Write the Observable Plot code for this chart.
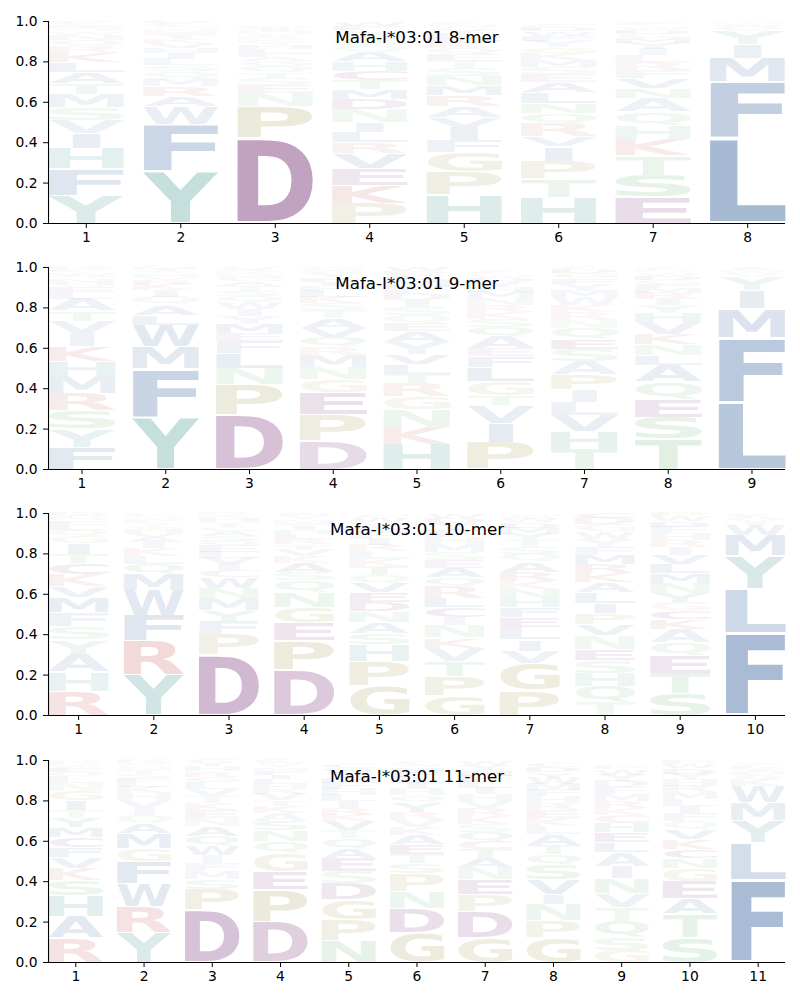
<!DOCTYPE html>
<html>
<head>
<meta charset="utf-8">
<script src="https://cdn.jsdelivr.net/npm/d3@7"></script>
<script src="https://cdn.jsdelivr.net/npm/@observablehq/plot@0.6"></script>
<style>
  body { margin: 0; background: #fff; }
  #c svg { display: block; }
</style>
</head>
<body>
<div id="c"></div>
<script>
// ---------- data (stack order bottom -> top, values = probability) ----------
const titles = ["Mafa-I*03:01 8-mer", "Mafa-I*03:01 9-mer", "Mafa-I*03:01 10-mer", "Mafa-I*03:01 11-mer"];
const yTicks = [0, 0.2, 0.4, 0.6, 0.8, 1.0];

const mer8 = [
  [["Y",.14],["F",.13],["H",.10],["I",.075],["V",.065],["S",.065],["M",.065],["T",.055],["A",.055],["L",.05],["K",.045],["R",.035],["Q",.03],["N",.025],["W",.015],["G",.015],["E",.015],["C",.01],["P",.005],["D",.005]],
  [["Y",.26],["F",.23],["W",.09],["A",.05],["R",.05],["M",.04],["Q",.035],["S",.03],["L",.03],["I",.03],["H",.025],["V",.025],["K",.02],["T",.02],["E",.015],["N",.015],["G",.01],["C",.01],["P",.01],["D",.005]],
  [["D",.42],["P",.16],["N",.065],["E",.04],["S",.035],["T",.03],["Q",.03],["G",.025],["A",.02],["F",.02],["L",.02],["H",.02],["Y",.015],["K",.015],["R",.015],["V",.015],["M",.01],["I",.01],["W",.01],["C",.005]],
  [["P",.10],["K",.09],["E",.083],["V",.074],["R",.053],["L",.054],["I",.045],["N",.066],["D",.05],["M",.05],["T",.045],["C",.045],["H",.05],["A",.045],["Q",.035],["S",.025],["G",.025],["Y",.02],["F",.02],["W",.02]],
  [["H",.14],["P",.115],["G",.095],["F",.06],["I",.065],["V",.05],["A",.055],["R",.055],["M",.05],["N",.045],["S",.04],["T",.035],["E",.035],["Q",.03],["K",.025],["D",.025],["L",.025],["Y",.02],["W",.015],["C",.01]],
  [["H",.13],["T",.09],["P",.09],["I",.07],["V",.05],["R",.065],["Q",.05],["N",.05],["L",.055],["A",.05],["E",.04],["S",.035],["M",.035],["K",.035],["G",.03],["Y",.03],["F",.025],["W",.02],["D",.02],["C",.015]],
  [["E",.13],["S",.11],["T",.095],["K",.08],["H",.07],["Q",.07],["A",.065],["N",.05],["V",.05],["F",.04],["R",.04],["L",.035],["I",.03],["Y",.03],["M",.025],["G",.02],["D",.02],["W",.015],["C",.01],["P",.01]],
  [["L",.42],["F",.28],["M",.12],["I",.065],["Y",.07],["V",.012],["W",.01],["A",.006],["C",.005],["T",.004],["H",.003]]
];

const mer9 = [
  [["F",.11],["Y",.09],["S",.09],["R",.085],["M",.085],["H",.075],["K",.075],["I",.065],["V",.06],["T",.05],["A",.06],["L",.035],["E",.025],["Q",.02],["N",.02],["G",.015],["W",.015],["C",.01],["D",.01],["P",.01]],
  [["Y",.26],["F",.24],["M",.11],["W",.105],["L",.05],["A",.05],["Q",.04],["I",.035],["K",.03],["R",.02],["V",.015],["H",.015],["S",.01],["T",.01],["E",.005],["N",.005],["G",.005],["C",.005]],
  [["D",.27],["P",.15],["N",.08],["L",.075],["F",.06],["E",.04],["M",.045],["Y",.04],["I",.035],["W",.035],["Q",.03],["S",.025],["T",.025],["A",.02],["G",.02],["H",.015],["K",.01],["R",.01],["V",.01],["C",.005]],
  [["D",.14],["P",.13],["E",.11],["G",.065],["N",.06],["M",.06],["R",.04],["Q",.05],["V",.045],["A",.05],["T",.04],["S",.035],["K",.03],["L",.03],["H",.025],["I",.02],["F",.02],["Y",.02],["W",.015],["C",.015]],
  [["H",.125],["K",.085],["N",.085],["G",.065],["R",.065],["T",.045],["L",.05],["V",.05],["Y",.06],["A",.055],["E",.04],["Q",.04],["S",.04],["I",.035],["D",.035],["F",.03],["M",.03],["C",.025],["P",.02],["W",.02]],
  [["P",.135],["I",.095],["V",.09],["T",.045],["G",.07],["L",.07],["F",.055],["E",.04],["A",.06],["Q",.045],["S",.04],["K",.035],["R",.035],["N",.035],["M",.03],["H",.025],["Y",.025],["D",.02],["W",.015],["C",.01]],
  [["T",.10],["H",.09],["V",.08],["L",.065],["I",.06],["P",.075],["A",.065],["S",.06],["E",.05],["Q",.055],["N",.04],["R",.04],["K",.035],["W",.04],["M",.03],["Y",.035],["F",.025],["G",.025],["D",.02],["C",.01]],
  [["T",.15],["S",.11],["E",.09],["Q",.085],["A",.08],["L",.05],["N",.055],["K",.05],["V",.06],["H",.045],["Y",.04],["I",.03],["R",.03],["M",.025],["F",.02],["G",.02],["D",.02],["W",.015],["P",.01],["C",.01]],
  [["L",.33],["F",.32],["M",.145],["I",.09],["Y",.07],["V",.015],["W",.01],["A",.01],["C",.005],["T",.005]]
];

const mer10 = [
  [["R",.12],["H",.095],["A",.09],["Y",.07],["S",.065],["F",.07],["M",.075],["V",.055],["K",.06],["C",.055],["T",.045],["I",.055],["G",.035],["Q",.03],["L",.025],["E",.02],["N",.015],["W",.01],["D",.01],["P",.005]],
  [["Y",.20],["R",.17],["F",.125],["W",.125],["M",.08],["Q",.05],["L",.04],["K",.04],["I",.03],["A",.025],["V",.02],["H",.02],["S",.015],["T",.015],["E",.01],["N",.01],["G",.01],["C",.005],["D",.005],["P",.005]],
  [["D",.30],["P",.10],["F",.065],["Y",.055],["M",.06],["N",.05],["W",.055],["C",.035],["I",.03],["V",.03],["L",.03],["E",.03],["Q",.025],["S",.025],["A",.025],["G",.02],["T",.02],["H",.02],["K",.015],["R",.01]],
  [["D",.225],["P",.145],["E",.09],["G",.075],["N",.075],["Q",.06],["S",.04],["A",.045],["K",.035],["V",.03],["T",.03],["R",.025],["L",.025],["H",.02],["I",.02],["F",.015],["M",.015],["Y",.015],["W",.01],["C",.005]],
  [["G",.145],["P",.125],["H",.08],["S",.055],["A",.055],["N",.055],["D",.045],["E",.05],["V",.045],["Q",.04],["T",.045],["K",.035],["L",.04],["R",.03],["I",.03],["F",.03],["M",.025],["Y",.025],["W",.02],["C",.015]],
  [["G",.10],["P",.095],["T",.075],["V",.065],["K",.05],["N",.06],["I",.04],["C",.05],["L",.045],["R",.06],["Q",.045],["A",.045],["E",.04],["S",.04],["M",.04],["H",.035],["F",.035],["Y",.03],["D",.025],["W",.02]],
  [["P",.125],["G",.135],["V",.06],["I",.055],["L",.06],["E",.05],["F",.05],["H",.045],["N",.045],["K",.04],["R",.045],["A",.05],["Q",.04],["S",.035],["T",.035],["Y",.03],["M",.03],["D",.025],["W",.02],["C",.015]],
  [["T",.065],["Q",.08],["H",.065],["S",.065],["E",.055],["N",.065],["V",.055],["P",.055],["I",.05],["L",.055],["A",.05],["K",.045],["R",.045],["M",.045],["F",.04],["Y",.04],["W",.035],["G",.035],["D",.03],["C",.025]],
  [["S",.11],["T",.10],["E",.085],["Q",.065],["A",.065],["K",.05],["C",.045],["G",.04],["Y",.045],["N",.05],["M",.05],["L",.045],["V",.045],["I",.04],["R",.035],["H",.035],["F",.03],["D",.025],["W",.025],["P",.02]],
  [["F",.41],["L",.215],["Y",.165],["M",.10],["W",.055],["I",.015],["V",.01],["A",.01],["C",.01],["K",.005]]
];

const mer11 = [
  [["R",.12],["A",.11],["H",.10],["S",.075],["K",.06],["V",.055],["F",.05],["C",.05],["M",.05],["Y",.045],["T",.04],["I",.05],["G",.045],["N",.04],["L",.03],["Q",.025],["E",.02],["W",.01],["D",.01],["P",.01]],
  [["Y",.15],["R",.125],["W",.115],["F",.11],["G",.065],["M",.075],["A",.05],["Q",.04],["I",.035],["V",.04],["H",.035],["K",.03],["L",.025],["E",.02],["S",.02],["T",.02],["N",.015],["C",.015],["D",.01],["P",.01]],
  [["D",.26],["P",.10],["S",.05],["M",.04],["F",.04],["I",.04],["W",.045],["Q",.05],["A",.05],["N",.04],["E",.04],["K",.035],["T",.035],["V",.035],["L",.03],["G",.03],["R",.025],["H",.025],["Y",.02],["C",.015]],
  [["D",.20],["P",.16],["E",.09],["G",.09],["Q",.06],["N",.055],["S",.045],["A",.04],["K",.035],["T",.03],["V",.03],["R",.025],["H",.025],["L",.025],["I",.02],["F",.02],["M",.015],["Y",.015],["W",.01],["C",.01]],
  [["N",.11],["P",.10],["G",.10],["D",.08],["S",.06],["E",.065],["A",.05],["Q",.05],["T",.04],["V",.045],["K",.03],["R",.035],["I",.035],["L",.03],["H",.03],["F",.03],["M",.025],["Y",.025],["W",.02],["C",.02]],
  [["G",.15],["D",.12],["N",.08],["P",.09],["S",.05],["T",.045],["E",.05],["A",.045],["K",.04],["V",.04],["R",.035],["Y",.05],["Q",.035],["H",.03],["I",.03],["L",.03],["F",.025],["M",.02],["W",.015],["C",.01]],
  [["G",.125],["D",.125],["P",.085],["E",.075],["N",.06],["A",.045],["T",.045],["C",.04],["Q",.045],["S",.04],["K",.04],["R",.04],["V",.035],["H",.035],["I",.03],["L",.03],["F",.03],["M",.025],["Y",.025],["W",.02]],
  [["G",.125],["P",.085],["N",.08],["I",.045],["V",.075],["S",.075],["Q",.05],["T",.045],["A",.055],["L",.04],["K",.04],["E",.04],["R",.035],["H",.035],["F",.03],["M",.03],["W",.03],["Y",.025],["D",.025],["C",.02]],
  [["G",.06],["S",.065],["Q",.08],["T",.07],["V",.065],["N",.075],["I",.06],["A",.07],["L",.05],["E",.05],["H",.045],["C",.04],["K",.035],["R",.035],["M",.035],["F",.035],["D",.03],["Y",.03],["W",.025],["P",.02]],
  [["S",.125],["T",.115],["A",.075],["E",.085],["G",.065],["N",.05],["C",.045],["K",.05],["V",.05],["Q",.04],["F",.04],["I",.035],["L",.035],["M",.035],["R",.03],["H",.03],["Y",.03],["D",.025],["W",.02],["P",.02]],
  [["F",.41],["L",.185],["Y",.11],["M",.09],["W",.08],["K",.03],["V",.01],["A",.01],["C",.01],["H",.01],["I",.01],["R",.01],["E",.01],["S",.01]]
];

// colour groups
const groupColors = {
  hydrophobic: "rgb(82,119,170)",
  aromaticPolar: "rgb(80,158,152)",
  acidic: "rgb(134,72,134)",
  special: "rgb(167,159,90)",
  basic: "rgb(200,95,95)",
  polar: "rgb(110,185,120)"
};
const letterGroups = {
  A:"hydrophobic", V:"hydrophobic", L:"hydrophobic", I:"hydrophobic", M:"hydrophobic", F:"hydrophobic", W:"hydrophobic",
  Y:"aromaticPolar", H:"aromaticPolar",
  D:"acidic", E:"acidic", C:"acidic",
  P:"special", G:"special",
  K:"basic", R:"basic",
  S:"polar", T:"polar", N:"polar", Q:"polar"
};

// ---------- rendering ----------
const FS = 100;
const FONT = '"DejaVu Sans"';
const VPAD = 0.05;
const WIDTH = 0.8;
const ctx = document.createElement("canvas").getContext("2d");
ctx.font = `bold ${FS}px ${FONT}`;
const metricCache = {};
function ink(ch) {
  if (!metricCache[ch]) {
    const m = ctx.measureText(ch);
    metricCache[ch] = {l: m.actualBoundingBoxLeft, r: m.actualBoundingBoxRight, a: m.actualBoundingBoxAscent, d: m.actualBoundingBoxDescent};
  }
  return metricCache[ch];
}
const eInk = ink("E");
const eWidth = eInk.l + eInk.r;

function scaleFn(chart, name) {
  const s = chart.scale(name);
  if (s.apply) return v => s.apply(v);
  const f = d3.scaleLinear().domain(s.domain).range(s.range);
  return v => f(v);
}

function panel(cols, title) {
  const n = cols.length;
  const rows = [];
  cols.forEach((col, i) => {
    let acc = 0;
    col.forEach(([ch, p]) => {
      rows.push({pos: i + 1, letter: ch, y1: acc, y2: acc + p, p,
                 color: groupColors[letterGroups[ch]], alpha: Math.min(1, 0.04 + 1.12 * p)});
      acc += p;
    });
  });
  const positions = cols.map((_, i) => i + 1);
  const chart = Plot.plot({
    width: 800, height: 246.2,
    marginTop: 21, marginBottom: 23.2, marginLeft: 48, marginRight: 15,
    style: {fontFamily: `${FONT}, sans-serif`, fontSize: "13.9px", background: "white", color: "black"},
    color: {type: "identity"},
    opacity: {type: "identity"},
    x: {domain: [0.6, n + 0.4], ticks: positions, tickFormat: d3.format("d"), tickSize: 5, tickPadding: 4, label: null},
    y: {domain: [0, 1], ticks: yTicks, tickFormat: d3.format(".1f"), tickSize: 5, tickPadding: 6, label: null},
    marks: [
      Plot.text(rows, {x: "pos", y: "y1", text: "letter", fill: "color", fillOpacity: "alpha",
                       fontSize: FS, fontWeight: "bold", fontFamily: FONT}),
      Plot.ruleY([0], {stroke: "black", strokeWidth: 1.1}),
      Plot.ruleX([0.6], {stroke: "black", strokeWidth: 1.1}),
      Plot.text([title], {frameAnchor: "top", dy: 16, lineAnchor: "middle", fontSize: 16.7, fill: "black"})
    ]
  });
  const fx = scaleFn(chart, "x"), fy = scaleFn(chart, "y");
  const groups = chart.querySelectorAll('g[aria-label="text"]');
  const letterGroup = groups[0];
  const texts = letterGroup ? letterGroup.querySelectorAll("text") : [];
  rows.forEach((r, i) => {
    const t = texts[i];
    if (!t) return;
    const m = ink(r.letter);
    const bx0 = fx(r.pos - WIDTH / 2), bx1 = fx(r.pos + WIDTH / 2);
    const top = fy(r.y2), bot = fy(r.y1);
    const h = bot - top, pad = VPAD * h / 2;
    const iw = m.l + m.r, ih = m.a + m.d;
    const kx = (bx1 - bx0) / Math.max(iw, eWidth);
    const ky = Math.max(0.0001, (h - 2 * pad)) / ih;
    const tx = (bx0 + bx1) / 2 - kx * (m.r - m.l) / 2;
    const ty = bot - pad - ky * m.d;
    t.removeAttribute("x"); t.removeAttribute("y"); t.removeAttribute("dy");
    t.setAttribute("text-anchor", "start");
    t.setAttribute("transform", `translate(${tx},${ty}) scale(${kx},${ky})`);
  });
  return chart;
}

const container = document.getElementById("c");
[mer8, mer9, mer10, mer11].forEach((cols, k) => container.appendChild(panel(cols, titles[k])));
</script>
</body>
</html>
